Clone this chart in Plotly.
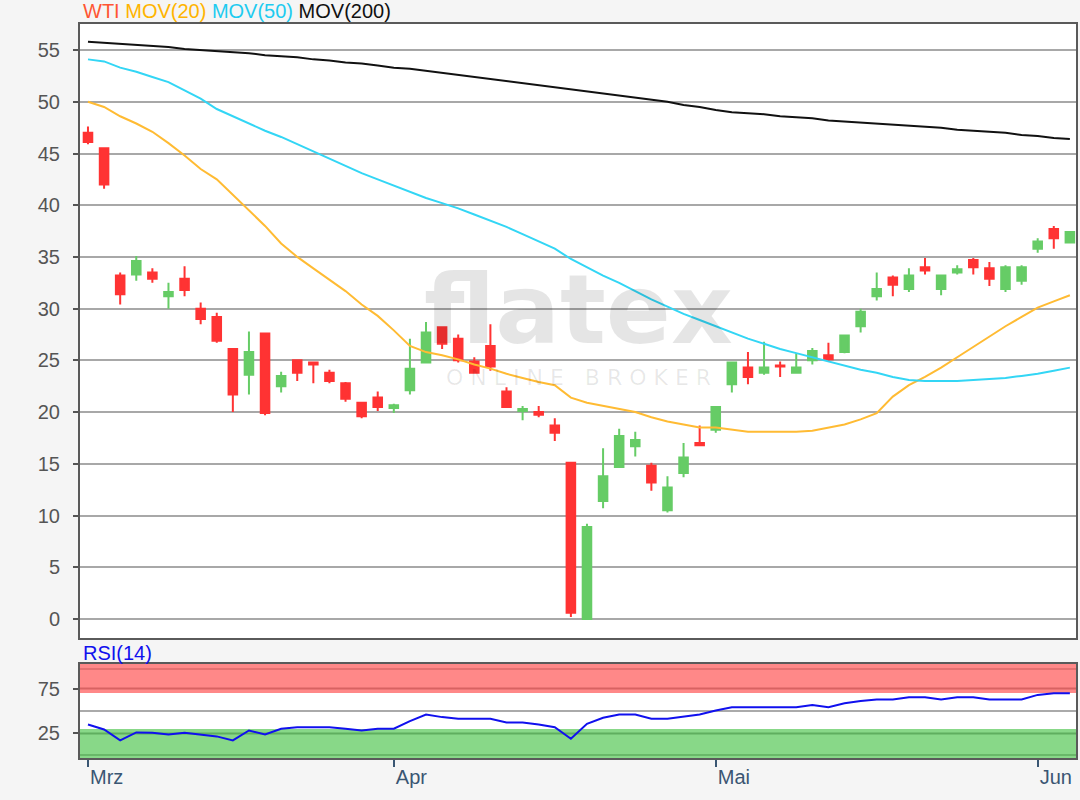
import plotly.graph_objs as go

# ---------------------------------------------- DATA ------------------------------------------------------------------
# trading-day index 0..61 (2 Mar 2020 - 3 Jun 2020)
day = list(range(62))
tick_pos = [0, 19, 39, 59]
tick_text = ["Mrz", "Apr", "Mai", "Jun"]

wti_open = [47.0, 45.5, 33.2, 33.3, 33.5, 31.2, 32.9, 30.0, 29.2, 26.1,
            23.6, 27.6, 22.5, 25.0, 24.8, 23.8, 22.8, 20.9, 21.4, 20.4,
            22.1, 24.8, 28.2, 27.1, 24.9, 26.4, 22.0, 20.1, 20.0, 18.7,
            15.1, 0.0, 11.4, 14.7, 16.7, 14.8, 10.5, 14.1, 17.0, 18.3,
            22.7, 24.3, 23.8, 24.5, 23.8, 25.0, 25.5, 25.8, 28.3, 31.2,
            33.0, 31.9, 34.0, 31.9, 33.5, 34.7, 33.9, 31.9, 32.7, 35.8,
            37.7, 36.4]
wti_high = [47.6, 45.5, 33.5, 35.1, 33.9, 32.5, 34.1, 30.6, 29.6, 26.2,
            27.8, 27.6, 23.9, 25.1, 24.9, 24.1, 22.9, 21.0, 22.0, 20.8,
            27.1, 28.7, 28.3, 27.5, 25.3, 28.5, 22.4, 20.6, 20.6, 19.4,
            15.1, 9.2, 16.5, 18.4, 18.1, 15.1, 13.8, 17.0, 18.7, 20.6,
            24.9, 25.8, 26.8, 24.9, 25.7, 26.2, 26.7, 27.5, 30.0, 33.5,
            33.2, 33.9, 34.9, 33.3, 34.2, 34.9, 34.5, 34.2, 34.2, 36.8,
            38.0, 37.5]
wti_low = [45.9, 41.6, 30.4, 32.7, 32.5, 30.0, 31.2, 28.5, 26.7, 20.0,
           21.7, 19.7, 21.9, 23.0, 22.8, 22.8, 21.0, 19.4, 20.1, 19.9,
           21.7, 24.8, 26.1, 24.8, 23.7, 24.0, 20.4, 19.2, 19.5, 17.2,
           0.2, 0.0, 10.7, 14.6, 15.7, 12.4, 10.3, 13.7, 16.7, 18.0,
           21.9, 22.7, 23.6, 23.4, 23.7, 24.6, 24.9, 25.7, 27.7, 30.8,
           31.2, 31.6, 33.3, 31.3, 33.3, 33.3, 32.2, 31.6, 32.3, 35.4,
           35.8, 36.3]
wti_close = [46.1, 42.0, 31.4, 34.6, 32.9, 31.6, 31.8, 29.0, 26.9, 21.7,
             25.8, 19.9, 23.5, 23.8, 24.6, 23.0, 21.3, 19.6, 20.5, 20.65,
             24.2, 27.7, 26.6, 25.0, 23.8, 24.4, 20.5, 20.3, 19.75, 18.0,
             0.6, 8.9, 13.8, 17.7, 17.3, 13.2, 12.7, 15.6, 16.8, 20.5,
             24.8, 23.4, 24.3, 24.4, 24.3, 25.9, 25.1, 27.4, 29.7, 31.9,
             32.3, 33.2, 33.7, 33.2, 33.8, 34.0, 32.9, 34.0, 34.0, 36.5,
             36.8, 37.4]

mov20 = [50.0, 49.5, 48.6, 47.9, 47.1, 46.0, 44.8, 43.5, 42.5, 41.0,
         39.5, 38.0, 36.3, 35.0, 33.9, 32.8, 31.7, 30.4, 29.3, 27.9,
         26.4, 25.8, 25.5, 25.1, 24.6, 24.2, 23.7, 23.3, 22.9, 22.6,
         21.4, 20.9, 20.6, 20.3, 20.0, 19.5, 19.1, 18.8, 18.5, 18.5,
         18.3, 18.1, 18.1, 18.1, 18.1, 18.2, 18.5, 18.8, 19.3, 19.9,
         21.5, 22.6, 23.4, 24.3, 25.3, 26.3, 27.3, 28.3, 29.2, 30.1,
         30.7, 31.3]
mov50 = [54.1, 53.9, 53.3, 52.9, 52.4, 51.9, 51.1, 50.3, 49.3, 48.6,
         47.9, 47.2, 46.6, 45.9, 45.2, 44.5, 43.8, 43.1, 42.5, 41.9,
         41.3, 40.7, 40.2, 39.7, 39.1, 38.5, 37.9, 37.2, 36.5, 35.8,
         34.8, 34.0, 33.2, 32.5, 31.7, 30.9, 30.2, 29.5, 28.9, 28.3,
         27.7, 27.1, 26.6, 26.1, 25.7, 25.3, 24.9, 24.5, 24.1, 23.8,
         23.4, 23.1, 23.0, 23.0, 23.0, 23.1, 23.2, 23.3, 23.5, 23.7,
         24.0, 24.3]
mov200 = [55.8, 55.7, 55.6, 55.5, 55.4, 55.3, 55.1, 55.0, 54.9, 54.8,
          54.7, 54.5, 54.4, 54.3, 54.1, 54.0, 53.8, 53.7, 53.5, 53.3,
          53.2, 53.0, 52.8, 52.6, 52.4, 52.2, 52.0, 51.8, 51.6, 51.4,
          51.2, 51.0, 50.8, 50.6, 50.4, 50.2, 50.0, 49.7, 49.5, 49.2,
          49.0, 48.9, 48.8, 48.6, 48.5, 48.4, 48.2, 48.1, 48.0, 47.9,
          47.8, 47.7, 47.6, 47.5, 47.3, 47.2, 47.1, 47.0, 46.8, 46.7,
          46.5, 46.4]

rsi14 = [35.0, 29.4, 17.2, 26.1, 25.7, 23.9, 25.7, 23.9, 21.7, 17.2,
         28.3, 23.9, 30.2, 32.0, 32.0, 32.0, 30.2, 28.3, 30.2, 30.2,
         38.7, 46.1, 43.2, 41.3, 41.3, 41.3, 37.3, 37.3, 35.0, 32.0,
         19.1, 35.8, 42.4, 46.1, 46.1, 41.3, 41.3, 43.9, 46.1, 50.6,
         54.2, 54.2, 54.2, 54.2, 54.2, 56.8, 54.2, 58.6, 61.3, 62.8,
         62.8, 65.4, 65.4, 62.8, 65.4, 65.4, 62.8, 62.8, 62.8, 68.0,
         69.8, 69.8]

# RSI zones (overbought / oversold)
rsi_hot = [70, 102.4]
rsi_cold = [-2.4, 30]

# ---------------------------------------------- VISUALIZATION ---------------------------------------------------------
RED = "#ff3333"
GREEN = "#66cc66"
FONT = "Liberation Sans, Arial, sans-serif"

fig = go.Figure()
fig.add_trace(go.Candlestick(x=day, open=wti_open, high=wti_high, low=wti_low, close=wti_close,
                             increasing=dict(line=dict(color=GREEN, width=2), fillcolor=GREEN),
                             decreasing=dict(line=dict(color=RED, width=2), fillcolor=RED),
                             whiskerwidth=0, xaxis="x", yaxis="y", showlegend=False))
fig.add_trace(go.Scatter(x=day, y=mov20, mode="lines", line=dict(color="#ffbb33", width=2),
                         xaxis="x", yaxis="y", showlegend=False))
fig.add_trace(go.Scatter(x=day, y=mov50, mode="lines", line=dict(color="#33d6f5", width=2),
                         xaxis="x", yaxis="y", showlegend=False))
fig.add_trace(go.Scatter(x=day, y=mov200, mode="lines", line=dict(color="#111111", width=2),
                         xaxis="x", yaxis="y", showlegend=False))
fig.add_trace(go.Scatter(x=day, y=rsi14, mode="lines", line=dict(color="#1010ee", width=2),
                         xaxis="x2", yaxis="y2", showlegend=False))

frame = dict(showline=True, mirror=True, linecolor="#5a5a5a", linewidth=2)

fig.update_layout(
    width=1080, height=800,
    margin=dict(l=80, r=2, t=24, b=42),
    paper_bgcolor="#f5f5f5", plot_bgcolor="white",
    font=dict(family=FONT, size=20, color="#555555"),
    boxgap=0.24,
    xaxis=dict(domain=[0, 1], anchor="y", range=[-0.496, 61.38], showticklabels=False,
               showgrid=False, zeroline=False, rangeslider=dict(visible=False), **frame),
    yaxis=dict(domain=[0.1635, 1], anchor="x", range=[-1.84, 57.52], dtick=5,
               gridcolor="#a8a8a8", gridwidth=2, zeroline=False,
               ticks="outside", ticklen=5, tickwidth=1.5, tickcolor="#555555",
               ticklabelstandoff=9, **frame),
    xaxis2=dict(domain=[0, 1], anchor="y2", matches="x", showgrid=False, zeroline=False,
                tickvals=tick_pos, ticktext=tick_text, ticks="outside", ticklen=7, tickwidth=2,
                tickcolor="#3a5673", tickfont=dict(color="#3a5673", size=20),
                ticklabelposition="outside right", **frame),
    yaxis2=dict(domain=[0, 0.128], anchor="x2", range=[-2.4, 102.4], tickvals=[25, 75],
                showgrid=False, zeroline=False,
                ticks="outside", ticklen=5, tickwidth=1.5, tickcolor="#555555",
                ticklabelstandoff=9, **frame),
)

# RSI zones and guide lines (drawn under the RSI line)
fig.add_shape(type="rect", xref="x2 domain", yref="y2", x0=0, x1=1, y0=rsi_hot[0], y1=rsi_hot[1],
              fillcolor="#ff8888", line_width=0, layer="below")
fig.add_shape(type="rect", xref="x2 domain", yref="y2", x0=0, x1=1, y0=rsi_cold[0], y1=rsi_cold[1],
              fillcolor="#88d888", line_width=0, layer="below")
for lvl, col in [(97, "#dd6a6a"), (75, "#d86262"), (50, "#aaaaaa"), (25, "#5fae5f"), (1, "#5fae5f")]:
    fig.add_shape(type="line", xref="x2 domain", yref="y2", x0=0, x1=1, y0=lvl, y1=lvl,
                  line=dict(color=col, width=2 if lvl in (25, 50, 75) else 1.5), layer="below")

# header texts
fig.add_annotation(xref="paper", yref="paper", x=0, y=1, xanchor="left", yanchor="bottom",
                   xshift=1, showarrow=False, font=dict(family=FONT, size=20),
                   text='<span style="color:#ff5533">WTI</span> '
                        '<span style="color:#ffb400">MOV(20)</span> '
                        '<span style="color:#1ecbf0">MOV(50)</span> '
                        '<span style="color:#111111">MOV(200)</span>')
fig.add_annotation(xref="paper", yref="y2 domain", x=0, y=1, xanchor="left", yanchor="bottom",
                   xshift=1, yshift=-2, showarrow=False, text="RSI(14)",
                   font=dict(family=FONT, size=20, color="#1010ee"))

# watermark
fig.add_annotation(xref="x domain", yref="y domain", x=0.5, y=0.535, showarrow=False, text="flatex",
                   font=dict(family="DejaVu Sans", size=96, weight="bold", color="rgba(0,0,0,0.1)"))
fig.add_annotation(xref="x domain", yref="y domain", x=0.5, y=0.425, showarrow=False,
                   text="O N L I N E   B R O K E R",
                   font=dict(family="DejaVu Sans", size=22, color="rgba(0,0,0,0.09)"))

fig.write_html("out.html", config={"displayModeBar": False},
               post_script="document.body.style.margin='0';document.body.style.background='#f5f5f5';")
